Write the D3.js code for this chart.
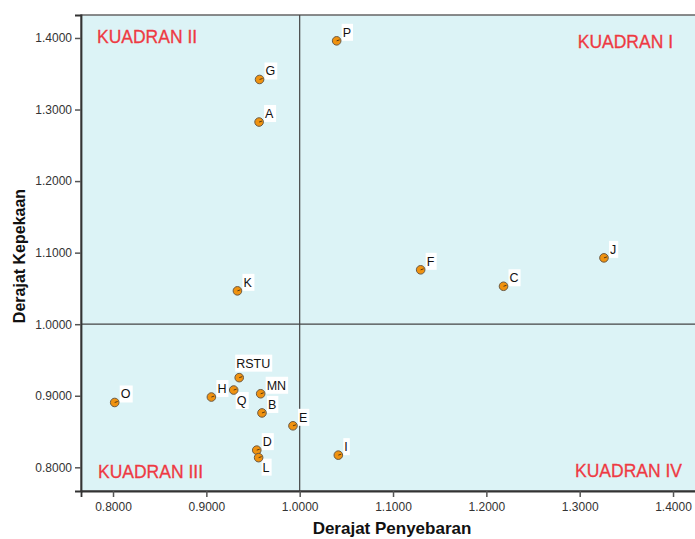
<!DOCTYPE html>
<html><head><meta charset="utf-8">
<script src="https://cdn.jsdelivr.net/npm/d3@7"></script>
<style>body{margin:0;background:#fff}svg{display:block}</style>
</head><body>
<svg id="c" width="695" height="539"></svg>
<script>
const labels = ["P","G","A","F","J","C","K","RSTU","MN","H","Q","O","B","E","D","L","I"];
const penyebaran = [1.0396,0.957,0.9565,1.1296,1.326,1.2184,0.9333,0.9352,0.9582,0.9054,0.9293,0.8018,0.9596,0.9928,0.954,0.956,1.0414];
const kepekaan = [1.396,1.342,1.2825,1.076,1.0927,1.053,1.0466,0.9253,0.9028,0.8982,0.908,0.8906,0.876,0.858,0.824,0.8135,0.817];
const xTicks = [0.8,0.9,1.0,1.1,1.2,1.3,1.4];
const yTicks = [0.8,0.9,1.0,1.1,1.2,1.3,1.4];
const quadrants = ["KUADRAN I","KUADRAN II","KUADRAN III","KUADRAN IV"];

const svg = d3.select("#c");
const L=81, R=700, T=15, B=491;
const x = d3.scaleLinear().domain([0.7657,1.4289]).range([L,R]);
const y = d3.scaleLinear().domain([0.7669,1.4321]).range([B,T]);
const font = "'Liberation Sans', Arial, sans-serif";

svg.append("rect").attr("x",L).attr("y",T).attr("width",R-L).attr("height",B-T)
  .attr("fill","#dcf3f6").attr("stroke","#666").attr("stroke-width",1.5);

// reference lines
svg.append("line").attr("x1",x(1)).attr("x2",x(1)).attr("y1",T).attr("y2",B).attr("stroke","#444").attr("stroke-width",1.2);
svg.append("line").attr("x1",L).attr("x2",R).attr("y1",y(1)).attr("y2",y(1)).attr("stroke","#444").attr("stroke-width",1.2);

const fmt = d3.format(".4f");
const gx = svg.append("g").attr("transform",`translate(0,${B})`)
  .call(d3.axisBottom(x).tickValues(xTicks).tickFormat(fmt).tickSize(6).tickPadding(5));
const gy = svg.append("g").attr("transform",`translate(${L},0)`)
  .call(d3.axisLeft(y).tickValues(yTicks).tickFormat(fmt).tickSize(6).tickPadding(3));
[gx,gy].forEach(g=>{
  g.select(".domain").attr("stroke","#333").attr("stroke-width",1.8);
  g.selectAll(".tick line").attr("stroke","#555").attr("stroke-width",1.5);
  g.selectAll(".tick text").attr("fill","#333").style("font-family",font).style("font-size","12px");
});

// quadrant labels
const qpos = [[R-27,"end",T+33],[97,"start",T+28],[98,"start",B-13],[R-18,"end",B-14]];
quadrants.forEach((q,i)=>{
  svg.append("text").attr("x",qpos[i][0]).attr("y",qpos[i][2]).attr("text-anchor",qpos[i][1])
    .attr("fill","#ee3a43").style("font-family",font).style("font-size","17.5px")
    .attr("stroke","#ee3a43").attr("stroke-width",0.3).text(q);
});

// label placement exceptions (style)
const place = {Q:[3,15],L:[4,14],RSTU:[-3,-10]};
const pts = labels.map((l,i)=>({l,px:x(penyebaran[i]),py:y(kepekaan[i])}));
const lg = svg.append("g");
pts.forEach(p=>{
  const off = place[p.l] || [6,-4];
  const t = lg.append("text").attr("x",p.px+off[0]).attr("y",p.py+off[1])
    .style("font-family",font).style("font-size","12.5px").attr("fill","#111").text(p.l);
  const bb = t.node().getBBox();
  lg.insert("rect","text").attr("x",bb.x-1).attr("y",bb.y-2).attr("width",bb.width+3).attr("height",bb.height+3).attr("fill","#fff");
});
const dg = svg.append("g");
pts.forEach(p=>{
  dg.append("circle").attr("cx",p.px).attr("cy",p.py).attr("r",4.3)
    .attr("fill","#f0920f").attr("stroke","#6b5a45").attr("stroke-width",1);
  dg.append("line").attr("x1",p.px).attr("y1",p.py).attr("x2",p.px+3).attr("y2",p.py-1)
    .attr("stroke","#5a3a10").attr("stroke-width",1);
});

// axis titles
svg.append("text").attr("x",392).attr("y",534).attr("text-anchor","middle")
  .style("font-family",font).style("font-size","17px").style("font-weight","bold").attr("fill","#111").text("Derajat Penyebaran");
svg.append("text").attr("transform","translate(25,256) rotate(-90)").attr("text-anchor","middle")
  .style("font-family",font).style("font-size","16px").style("font-weight","bold").attr("fill","#111").text("Derajat Kepekaan");
</script>
</body></html>
